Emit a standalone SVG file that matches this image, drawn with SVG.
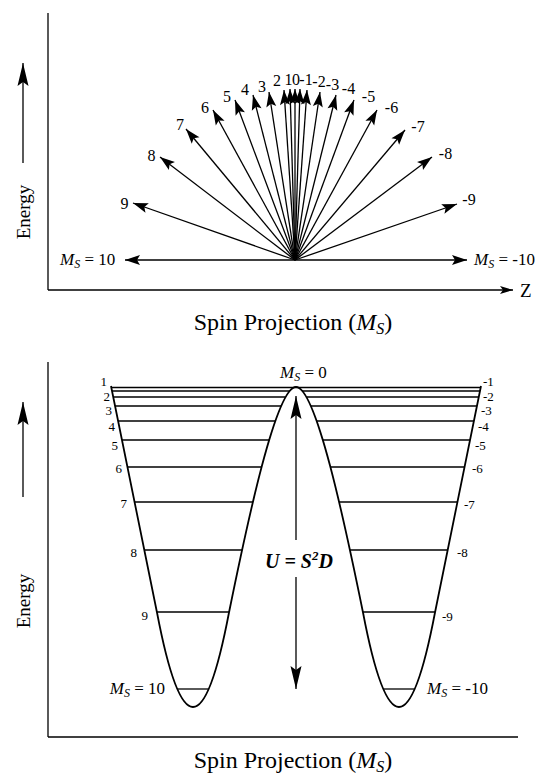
<svg xmlns="http://www.w3.org/2000/svg" width="542" height="778" viewBox="0 0 542 778">
<defs>
<style>
text{font-family:"Liberation Serif","Times New Roman",serif;fill:#000}
.ax{stroke:#000;stroke-width:1.3;fill:none}
.fan{stroke:#000;stroke-width:1.3;fill:none;marker-end:url(#ah)}
.lvl{stroke:#000;stroke-width:1.3}
.crv{stroke:#000;stroke-width:1.8;fill:none}
.big{stroke:#000;stroke-width:1.3;fill:none;marker-end:url(#ahl)}
.fl{font-size:16px;text-anchor:middle}
.ll{font-size:13px;text-anchor:end}
.rl{font-size:13px;text-anchor:start}
.ms{font-size:17px}
.it{font-style:italic}
</style>
<marker id="ah" viewBox="-16 -6 17 12" markerWidth="17" markerHeight="12" refX="0" refY="0" orient="auto" markerUnits="userSpaceOnUse"><path d="M0,0 L-15,-5 L-12,0 L-15,5 Z" fill="#000"/></marker>
<marker id="ahl" viewBox="-25 -7 26 14" markerWidth="26" markerHeight="14" refX="0" refY="0" orient="auto" markerUnits="userSpaceOnUse"><path d="M0,0 L-23,-5.5 L-19,0 L-23,5.5 Z" fill="#000"/></marker>
<marker id="ahz" viewBox="-14 -5 15 10" markerWidth="15" markerHeight="10" refX="0" refY="0" orient="auto" markerUnits="userSpaceOnUse"><path d="M0,0 L-13,-4 L-10,0 L-13,4 Z" fill="#000"/></marker>
</defs>

<!-- TOP PANEL -->
<g id="top-axes">
<line class="ax" x1="48" y1="13" x2="48" y2="290"/>
<line class="ax" x1="48" y1="290" x2="513" y2="290" marker-end="url(#ahz)"/>
<text x="520" y="297" font-size="19">Z</text>
<line class="big" x1="23" y1="163" x2="23" y2="63"/>
<text transform="translate(30,212) rotate(-90)" font-size="19" text-anchor="middle">Energy</text>
<text x="293" y="330" font-size="24" text-anchor="middle">Spin Projection (<tspan class="it">M</tspan><tspan class="it" font-size="16" dy="4">S</tspan><tspan dy="-4">)</tspan></text>
</g>

<g id="fan">
<line class="fan" x1="295" y1="260" x2="125" y2="260"/>
<line class="fan" x1="295" y1="260" x2="133" y2="203"/>
<line class="fan" x1="295" y1="260" x2="160" y2="157"/>
<line class="fan" x1="295" y1="260" x2="186" y2="129"/>
<line class="fan" x1="295" y1="260" x2="213" y2="110"/>
<line class="fan" x1="295" y1="260" x2="235" y2="100"/>
<line class="fan" x1="295" y1="260" x2="253" y2="95"/>
<line class="fan" x1="295" y1="260" x2="269" y2="92"/>
<line class="fan" x1="295" y1="260" x2="284" y2="90"/>
<line class="fan" x1="295" y1="260" x2="290" y2="89"/>
<line class="fan" x1="295" y1="260" x2="295" y2="89"/>
<line class="fan" x1="295" y1="260" x2="300" y2="89"/>
<line class="fan" x1="295" y1="260" x2="307" y2="90"/>
<line class="fan" x1="295" y1="260" x2="320" y2="92"/>
<line class="fan" x1="295" y1="260" x2="336" y2="95"/>
<line class="fan" x1="295" y1="260" x2="354" y2="100"/>
<line class="fan" x1="295" y1="260" x2="377" y2="110"/>
<line class="fan" x1="295" y1="260" x2="405" y2="130"/>
<line class="fan" x1="295" y1="260" x2="432" y2="157"/>
<line class="fan" x1="295" y1="260" x2="457" y2="204"/>
<line class="fan" x1="295" y1="260" x2="467" y2="260"/>
</g>

<g id="fan-labels">
<text class="ms" x="60" y="265"><tspan class="it">M</tspan><tspan class="it" font-size="12" dy="3">S</tspan><tspan dy="-3"> = 10</tspan></text>
<text class="ms" x="474" y="265"><tspan class="it">M</tspan><tspan class="it" font-size="12" dy="3">S</tspan><tspan dy="-3"> = -10</tspan></text>
<text class="fl" x="124.5" y="209">9</text>
<text class="fl" x="151.5" y="161">8</text>
<text class="fl" x="180" y="130">7</text>
<text class="fl" x="205" y="113">6</text>
<text class="fl" x="227" y="102">5</text>
<text class="fl" x="245" y="95">4</text>
<text class="fl" x="262" y="92">3</text>
<text class="fl" x="277" y="86">2</text>
<text class="fl" x="288.5" y="85">1</text>
<text class="fl" x="296" y="85">0</text>
<text class="fl" x="306" y="85">-1</text>
<text class="fl" x="319" y="87">-2</text>
<text class="fl" x="332.5" y="90">-3</text>
<text class="fl" x="348.5" y="94">-4</text>
<text class="fl" x="368.5" y="102">-5</text>
<text class="fl" x="391.5" y="113">-6</text>
<text class="fl" x="418" y="132">-7</text>
<text class="fl" x="445.5" y="159">-8</text>
<text class="fl" x="469" y="205">-9</text>
</g>

<!-- BOTTOM PANEL -->
<g id="bottom-axes">
<line class="ax" x1="48" y1="362" x2="48" y2="737"/>
<line class="ax" x1="48" y1="737" x2="518" y2="737"/>
<line class="big" x1="23" y1="497" x2="23" y2="402"/>
<text transform="translate(30,601) rotate(-90)" font-size="19" text-anchor="middle">Energy</text>
<text x="293" y="768" font-size="24" text-anchor="middle">Spin Projection (<tspan class="it">M</tspan><tspan class="it" font-size="16" dy="4">S</tspan><tspan dy="-4">)</tspan></text>
</g>

<g id="levels">
<line class="lvl" x1="111" y1="387.5" x2="481" y2="387.5"/>
<line class="lvl" x1="112" y1="391" x2="290" y2="391"/><line class="lvl" x1="302" y1="391" x2="480" y2="391"/>
<line class="lvl" x1="113.2" y1="397" x2="285" y2="397"/><line class="lvl" x1="307" y1="397" x2="478.8" y2="397"/>
<line class="lvl" x1="115" y1="406" x2="281" y2="406"/><line class="lvl" x1="311" y1="406" x2="477" y2="406"/>
<line class="lvl" x1="118" y1="421" x2="275.5" y2="421"/><line class="lvl" x1="316.5" y1="421" x2="474" y2="421"/>
<line class="lvl" x1="122" y1="440" x2="269" y2="440"/><line class="lvl" x1="323" y1="440" x2="470" y2="440"/>
<line class="lvl" x1="127.4" y1="467" x2="262" y2="467"/><line class="lvl" x1="330" y1="467" x2="464.6" y2="467"/>
<line class="lvl" x1="134.5" y1="502" x2="253" y2="502"/><line class="lvl" x1="339" y1="502" x2="457.5" y2="502"/>
<line class="lvl" x1="144.3" y1="550" x2="242" y2="550"/><line class="lvl" x1="350" y1="550" x2="447.7" y2="550"/>
<line class="lvl" x1="157" y1="612" x2="229" y2="612"/><line class="lvl" x1="363" y1="612" x2="435" y2="612"/>
<line class="lvl" x1="177.3" y1="689" x2="208.7" y2="689"/><line class="lvl" x1="383.3" y1="689" x2="414.7" y2="689"/>
</g>

<g id="potential">
<path class="crv" d="M111,386 L157,612.5 Q175,707 193,707 Q211,707 229,612.5 C247.3,522.5 276,387 296,387 C316,387 344.7,522.5 363,612.5 Q381,707 399,707 Q417,707 435,612.5 L481,386"/>
</g>

<g id="barrier">
<line class="big" x1="296" y1="540" x2="296" y2="396"/>
<line class="big" x1="296" y1="577" x2="296" y2="689"/>
<text x="265" y="568" font-size="20" font-weight="bold" font-style="italic">U = S<tspan font-size="13" dy="-8">2</tspan><tspan dy="8">D</tspan></text>
</g>

<g id="level-labels">
<text class="ms" x="280" y="378"><tspan class="it">M</tspan><tspan class="it" font-size="12" dy="3">S</tspan><tspan dy="-3"> = 0</tspan></text>
<text class="ms" x="165" y="694" text-anchor="end"><tspan class="it">M</tspan><tspan class="it" font-size="12" dy="3">S</tspan><tspan dy="-3"> = 10</tspan></text>
<text class="ms" x="427" y="694"><tspan class="it">M</tspan><tspan class="it" font-size="12" dy="3">S</tspan><tspan dy="-3"> = -10</tspan></text>
<text class="ll" x="107" y="386">1</text>
<text class="ll" x="110" y="400.5">2</text>
<text class="ll" x="112" y="415">3</text>
<text class="ll" x="115" y="431">4</text>
<text class="ll" x="118" y="450">5</text>
<text class="ll" x="122" y="473">6</text>
<text class="ll" x="127" y="508">7</text>
<text class="ll" x="137" y="557">8</text>
<text class="ll" x="148" y="620">9</text>
<text class="rl" x="483" y="386">-1</text>
<text class="rl" x="483" y="400.5">-2</text>
<text class="rl" x="481" y="415">-3</text>
<text class="rl" x="478" y="431">-4</text>
<text class="rl" x="475" y="450">-5</text>
<text class="rl" x="472" y="473">-6</text>
<text class="rl" x="464" y="509">-7</text>
<text class="rl" x="457" y="557">-8</text>
<text class="rl" x="442" y="621">-9</text>
</g>
</svg>
